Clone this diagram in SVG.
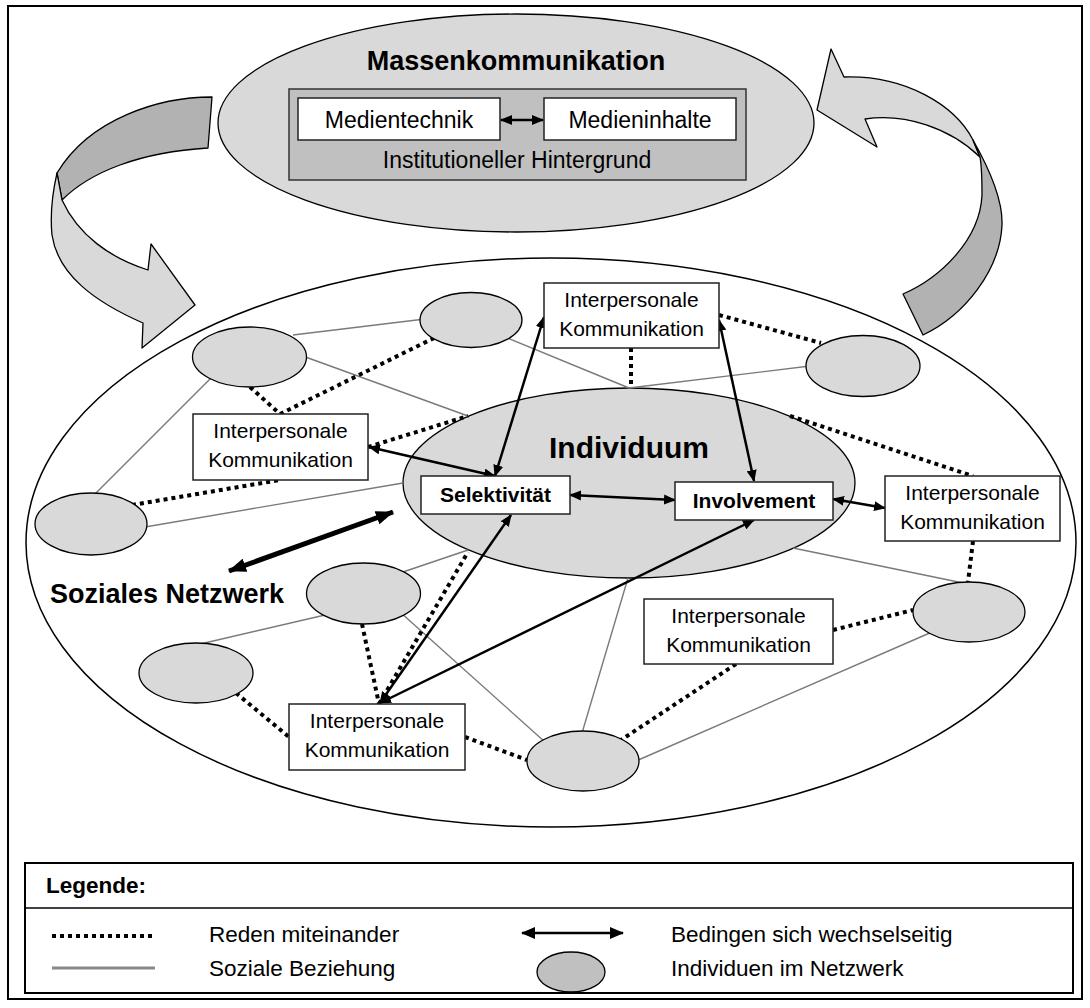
<svg xmlns="http://www.w3.org/2000/svg" width="1090" height="1008" viewBox="0 0 1090 1008">
  <defs>
    <style>
      .txt { font-family: "Liberation Sans", Arial, sans-serif; fill: #000; }
      .b { font-weight: bold; }
      .node { fill: #d9d9d9; stroke: #000; stroke-width: 1.3; }
      .box { fill: #fff; stroke: #222; stroke-width: 1.5; }
      .soc { stroke: #7a7a7a; stroke-width: 1.4; fill: none; }
      .talk { stroke: #000; stroke-width: 4; stroke-dasharray: 4 4; fill: none; }
      .arr { stroke: #000; stroke-width: 2.5; fill: none; marker-start: url(#ah); marker-end: url(#ah); }
      .ribbon-front { fill: #d9d9d9; stroke: #000; stroke-width: 1.3; stroke-linejoin: round; }
      .ribbon-back { fill: #b2b2b2; stroke: #000; stroke-width: 1.3; stroke-linejoin: round; }
      .leg { font-size: 22.5px; }
    </style>
    <marker id="ah" viewBox="0 0 12 10" refX="11" refY="5" markerWidth="12" markerHeight="10" markerUnits="userSpaceOnUse" orient="auto-start-reverse">
      <path d="M0,0 L12,5 L0,10 Z" fill="#000"/>
    </marker>
    <marker id="ahBig" viewBox="0 0 18 14" refX="17" refY="7" markerWidth="18" markerHeight="14" markerUnits="userSpaceOnUse" orient="auto-start-reverse">
      <path d="M0,0 L18,7 L0,14 Z" fill="#000"/>
    </marker>
    <marker id="ahLeg" viewBox="0 0 14 12" refX="13" refY="6" markerWidth="14" markerHeight="12" markerUnits="userSpaceOnUse" orient="auto-start-reverse">
      <path d="M0,0 L14,6 L0,12 Z" fill="#000"/>
    </marker>
  </defs>

  <!-- outer frame -->
  <rect x="8" y="6" width="1074" height="993" fill="#fff" stroke="#000" stroke-width="2"/>

  <!-- curved feedback arrows -->
  <g id="flow-left">
    <path class="ribbon-back" d="M212,97 C160,97 90,118 57,173 L62,200 C90,172 140,152 208,148 Z"/>
    <path class="ribbon-front" d="M57,173 C52,195 50,215 52,235 C58,275 95,302 143,323 L142,348 L195,305 L151,244 L148,270 C110,258 78,235 62,200 Z"/>
  </g>
  <g id="flow-right">
    <path class="ribbon-front" d="M844,77 L831,49 L817,110 L877,147 L865,119 C905,113 950,128 980,157 L973,140 C955,105 905,75 844,77 Z"/>
    <path class="ribbon-back" d="M973,140 C990,170 1003,200 1002,225 C1000,270 965,315 923,335 L903,294 C940,278 980,240 982,195 C982,180 982,168 980,157 Z"/>
  </g>

  <!-- mass communication -->
  <g id="massenkommunikation">
    <ellipse cx="516" cy="123" rx="298" ry="109" class="node"/>
    <text class="txt b" x="516" y="70" font-size="27" text-anchor="middle">Massenkommunikation</text>
    <rect x="289" y="89" width="457" height="91" fill="#c0c0c0" stroke="#333" stroke-width="1.5"/>
    <text class="txt" x="517" y="168" font-size="23" text-anchor="middle">Institutioneller Hintergrund</text>
  </g>
  <g id="medientechnik">
    <rect class="box" x="298" y="98" width="202" height="42"/>
    <text class="txt" x="399" y="128" font-size="23" text-anchor="middle">Medientechnik</text>
  </g>
  <g id="medieninhalte">
    <rect class="box" x="544" y="98" width="192" height="42"/>
    <text class="txt" x="640" y="128" font-size="23" text-anchor="middle">Medieninhalte</text>
  </g>

  <!-- social network -->
  <g id="soziales-netzwerk">
    <ellipse cx="551" cy="542.5" rx="525" ry="284.5" fill="#fff" stroke="#000" stroke-width="1.5"/>
    <text class="txt b" x="50" y="603" font-size="27">Soziales Netzwerk</text>
  </g>

  <g id="individuum">
    <ellipse cx="629" cy="483" rx="226" ry="95" class="node"/>
    <text class="txt b" x="629" y="458" font-size="30" text-anchor="middle">Individuum</text>
  </g>

  <!-- connectors -->
  <g id="connectors">
    <!-- social relations -->
    <line class="soc" x1="293" y1="335" x2="425" y2="319"/>
    <line class="soc" x1="300" y1="355" x2="468" y2="416"/>
    <line class="soc" x1="505" y1="337" x2="629" y2="388"/>
    <line class="soc" x1="810" y1="366" x2="629" y2="388"/>
    <line class="soc" x1="214" y1="375" x2="94" y2="495"/>
    <line class="soc" x1="145" y1="527" x2="403" y2="483"/>
    <line class="soc" x1="793" y1="548" x2="968" y2="584"/>
    <line class="soc" x1="628" y1="578" x2="582" y2="733"/>
    <line class="soc" x1="636" y1="761" x2="932" y2="632"/>
    <line class="soc" x1="400" y1="573" x2="468" y2="550"/>
    <line class="soc" x1="325" y1="615" x2="196" y2="645"/>
    <line class="soc" x1="400" y1="612" x2="545" y2="742"/>

    <!-- talking to each other -->
    <line class="talk" x1="250" y1="387" x2="280" y2="414"/>
    <line class="talk" x1="280" y1="414" x2="436" y2="337"/>
    <line class="talk" x1="368" y1="447" x2="468" y2="416"/>
    <line class="talk" x1="132" y1="505" x2="280" y2="480"/>
    <line class="talk" x1="631" y1="348" x2="631" y2="388"/>
    <line class="talk" x1="719" y1="315" x2="821" y2="343"/>
    <line class="talk" x1="790" y1="416" x2="973" y2="476"/>
    <line class="talk" x1="973" y1="541" x2="968" y2="582"/>
    <line class="talk" x1="833" y1="630" x2="913" y2="610"/>
    <line class="talk" x1="736" y1="664" x2="621" y2="740"/>
    <line class="talk" x1="465" y1="737" x2="527" y2="760"/>
    <line class="talk" x1="236" y1="693" x2="289" y2="737"/>
    <line class="talk" x1="362" y1="624" x2="379" y2="704"/>
    <line class="talk" x1="379" y1="704" x2="468" y2="552"/>

    <!-- mutual conditioning -->
    <line class="arr" x1="501" y1="120" x2="543" y2="120"/>
    <line class="arr" x1="369" y1="447" x2="495" y2="476"/>
    <line class="arr" x1="495" y1="476" x2="544" y2="317"/>
    <line class="arr" x1="719" y1="320" x2="754" y2="481"/>
    <line class="arr" x1="570" y1="495" x2="675" y2="500"/>
    <line class="arr" x1="833" y1="499" x2="885" y2="508"/>
    <line class="arr" x1="380" y1="703" x2="511" y2="515"/>
    <line class="arr" x1="380" y1="703" x2="754" y2="520"/>
    <line x1="229" y1="571" x2="393" y2="512" stroke="#000" stroke-width="5" marker-start="url(#ahBig)" marker-end="url(#ahBig)"/>
  </g>

  <!-- individuals in the network -->
  <g id="person-a"><ellipse class="node" cx="249.5" cy="357" rx="57" ry="30"/></g>
  <g id="person-b"><ellipse class="node" cx="471" cy="320" rx="51" ry="27.5"/></g>
  <g id="person-c"><ellipse class="node" cx="91" cy="524" rx="56" ry="31"/></g>
  <g id="person-d"><ellipse class="node" cx="863" cy="366" rx="57" ry="30.5"/></g>
  <g id="person-e"><ellipse class="node" cx="363.5" cy="593.5" rx="57" ry="30.5"/></g>
  <g id="person-f"><ellipse class="node" cx="196" cy="673" rx="57" ry="30"/></g>
  <g id="person-g"><ellipse class="node" cx="969" cy="612" rx="56" ry="30"/></g>
  <g id="person-h"><ellipse class="node" cx="583" cy="761" rx="56" ry="30"/></g>

  <!-- interpersonal communication -->
  <g id="ik-top">
    <rect class="box" x="544" y="283" width="175" height="65"/>
    <text class="txt" x="631.5" y="307" font-size="21" text-anchor="middle">Interpersonale</text>
    <text class="txt" x="631.5" y="336" font-size="21" text-anchor="middle">Kommunikation</text>
  </g>
  <g id="ik-left">
    <rect class="box" x="193" y="414" width="175" height="66"/>
    <text class="txt" x="280.5" y="438" font-size="21" text-anchor="middle">Interpersonale</text>
    <text class="txt" x="280.5" y="467" font-size="21" text-anchor="middle">Kommunikation</text>
  </g>
  <g id="ik-right">
    <rect class="box" x="885" y="476" width="175" height="65"/>
    <text class="txt" x="972.5" y="500" font-size="21" text-anchor="middle">Interpersonale</text>
    <text class="txt" x="972.5" y="529" font-size="21" text-anchor="middle">Kommunikation</text>
  </g>
  <g id="ik-lower-right">
    <rect class="box" x="644" y="599" width="189" height="65"/>
    <text class="txt" x="738.5" y="623" font-size="21" text-anchor="middle">Interpersonale</text>
    <text class="txt" x="738.5" y="652" font-size="21" text-anchor="middle">Kommunikation</text>
  </g>
  <g id="ik-bottom">
    <rect class="box" x="289" y="704" width="176" height="66"/>
    <text class="txt" x="377" y="728" font-size="21" text-anchor="middle">Interpersonale</text>
    <text class="txt" x="377" y="757" font-size="21" text-anchor="middle">Kommunikation</text>
  </g>

  <g id="selektivitaet">
    <rect class="box" x="421" y="476" width="149" height="38"/>
    <text class="txt b" x="495.5" y="502" font-size="21" text-anchor="middle">Selektivität</text>
  </g>
  <g id="involvement">
    <rect class="box" x="675" y="482" width="158" height="38"/>
    <text class="txt b" x="754" y="508" font-size="21" text-anchor="middle">Involvement</text>
  </g>

  <!-- legend -->
  <g id="legend">
    <rect x="25" y="863" width="1048" height="130" fill="#fff" stroke="#000" stroke-width="2"/>
    <line x1="25" y1="908" x2="1073" y2="908" stroke="#000" stroke-width="1.5"/>
    <text class="txt b leg" x="46" y="893">Legende:</text>
    <line class="talk" x1="52" y1="936" x2="155" y2="936" stroke-dasharray="4 3.5"/>
    <text class="txt leg" x="209" y="942">Reden miteinander</text>
    <line x1="52" y1="968" x2="155" y2="968" stroke="#888" stroke-width="3"/>
    <text class="txt leg" x="209" y="976">Soziale Beziehung</text>
    <line x1="522" y1="933" x2="623" y2="933" stroke="#000" stroke-width="2.5" marker-start="url(#ahLeg)" marker-end="url(#ahLeg)"/>
    <ellipse cx="571" cy="972" rx="34" ry="20" fill="#c0c0c0" stroke="#000" stroke-width="1.3"/>
    <text class="txt leg" x="671" y="942">Bedingen sich wechselseitig</text>
    <text class="txt leg" x="671" y="976">Individuen im Netzwerk</text>
  </g>
</svg>
